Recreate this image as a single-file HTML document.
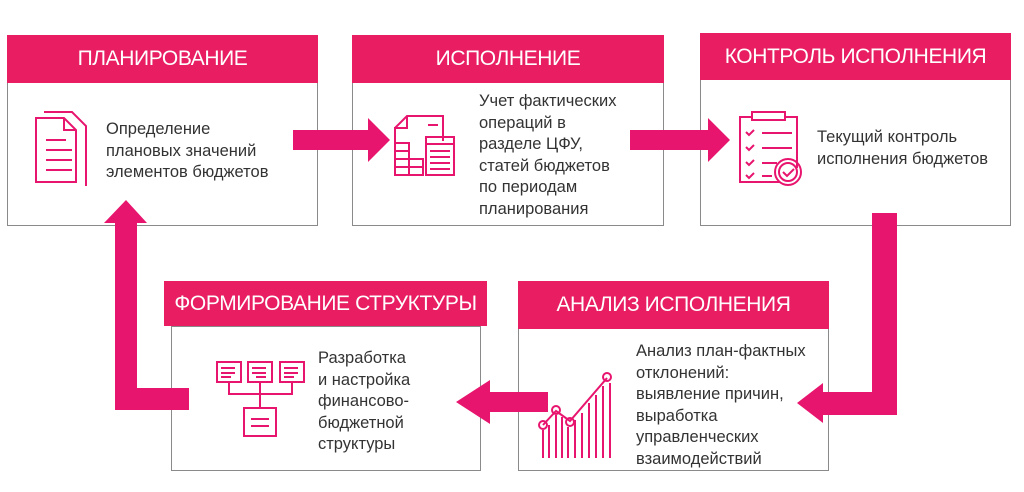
<!DOCTYPE html>
<html><head><meta charset="utf-8"><style>
body{margin:0;width:1024px;height:492px;background:#fff;position:relative;overflow:hidden;font-family:"Liberation Sans",sans-serif}
.b{position:absolute;border:1px solid #8a8a8a;background:#fff;box-sizing:border-box}
.h{position:absolute;background:#e81d62;color:#fff;font-size:21px;text-align:center;box-sizing:border-box;white-space:nowrap;letter-spacing:-0.4px}
.t{position:absolute;color:#333;font-size:16.5px;line-height:21.5px;white-space:nowrap}
svg{position:absolute;left:0;top:0}
</style></head><body>
<div class="b" style="left:7px;top:35px;width:311px;height:191px"></div>
<div class="h" style="left:7px;top:35px;width:311px;height:48px;line-height:48px">ПЛАНИРОВАНИЕ</div>
<div class="t" style="left:106px;top:119px">Определение<br>плановых значений<br>элементов бюджетов</div>

<div class="b" style="left:352px;top:35px;width:312px;height:191px"></div>
<div class="h" style="left:352px;top:35px;width:312px;height:48px;line-height:48px">ИСПОЛНЕНИЕ</div>
<div class="t" style="left:479px;top:91px">Учет фактических<br>операций в<br>разделе ЦФУ,<br>статей бюджетов<br>по периодам<br>планирования</div>

<div class="b" style="left:700px;top:33px;width:311px;height:193px"></div>
<div class="h" style="left:700px;top:33px;width:311px;height:47px;line-height:47px">КОНТРОЛЬ ИСПОЛНЕНИЯ</div>
<div class="t" style="left:817px;top:127px">Текущий контроль<br>исполнения бюджетов</div>

<div class="b" style="left:171px;top:326px;width:310px;height:145px"></div>
<div class="h" style="left:164px;top:281px;width:323px;height:45px;line-height:45px">ФОРМИРОВАНИЕ СТРУКТУРЫ</div>
<div class="t" style="left:318px;top:348px">Разработка<br>и настройка<br>финансово-<br>бюджетной<br>структуры</div>

<div class="b" style="left:518px;top:328px;width:311px;height:143px"></div>
<div class="h" style="left:518px;top:281px;width:311px;height:48px;line-height:48px">АНАЛИЗ ИСПОЛНЕНИЯ</div>
<div class="t" style="left:636px;top:341px">Анализ план-фактных<br>отклонений:<br>выявление причин,<br>выработка<br>управленческих<br>взаимодействий</div>

<svg width="1024" height="492" viewBox="0 0 1024 492">
<g fill="#e8156f">
<polygon points="293,130 368,130 368,118 390,140 368,162 368,150 293,150"/>
<polygon points="630,130 708,130 708,118 730,140 708,162 708,150 630,150"/>
<polygon points="872,213 897,213 897,415 823,415 823,423 797,403 823,383 823,392 872,392"/>
<polygon points="548,392 490,392 490,380 456,402 490,424 490,412 548,412"/>
<polygon points="189,410 115,410 115,223 104,223 126,200 147,223 137,223 137,388 189,388"/>
</g>
<g fill="none" stroke="#e8156f" stroke-width="2">
<path d="M36 118 h28 l12 12 v52 h-40z"/><path d="M44 112 h28 l14 14 v60"/><path d="M64 118 v12 h12"/>
<path d="M46 140h20M46 150h26M46 160h26M46 170h26"/>
<path d="M395 128 l12-12 h36 v25"/><path d="M407 116 v12 h-12 v25"/><path d="M428 125h10"/>
<rect x="426" y="137" width="28" height="38"/><path d="M426 144h28M430 151h20M430 157h20M430 163h20M430 169h20"/>
<rect x="395" y="143" width="14" height="8"/><rect x="395" y="151" width="14" height="8"/><rect x="395" y="159" width="14" height="8"/><rect x="395" y="167" width="14" height="8"/><rect x="409" y="159" width="14" height="8"/><rect x="409" y="167" width="14" height="8"/>
<path d="M752 117h-12v65h40"/><path d="M797 168 v-51 h-12"/><rect x="752" y="112" width="33" height="8"/>
<path d="M746 132l3 3 5-5M746 147l3 3 5-5M746 162l3 3 5-5M746 175l3 3 5-5"/><path d="M762 133h30M762 148h30M762 163h15M762 176h10"/>
<circle cx="788" cy="172" r="13"/><circle cx="788" cy="172" r="9"/><path d="M783 172l4 4 7-7"/>
<rect x="217" y="362" width="24" height="20"/><rect x="248" y="362" width="24" height="20"/><rect x="280" y="362" width="24" height="20"/>
<path d="M221 368h14M221 373h14M221 377h10M252 368h14M252 373h14M256 377h10M284 368h14M284 373h14M284 377h10"/>
<path d="M229 382v12h63v-12M260 382v26"/><rect x="244" y="408" width="32" height="28"/><path d="M251 419h18M251 426h18"/>
<path d="M543 425 L556 411 L570 421 L607 378"/>
<circle cx="543" cy="425" r="4"/><circle cx="556" cy="410" r="4"/><circle cx="570" cy="422" r="4"/><circle cx="607" cy="377" r="4"/>
<path d="M543 430v28M549 425v33M556 415v43M562 417v41M568 427v31M575 420v38M582 413v45M589 403v55M596 395v63M603 386v72M610 383v75"/>
</g>
</svg>
</body></html>
